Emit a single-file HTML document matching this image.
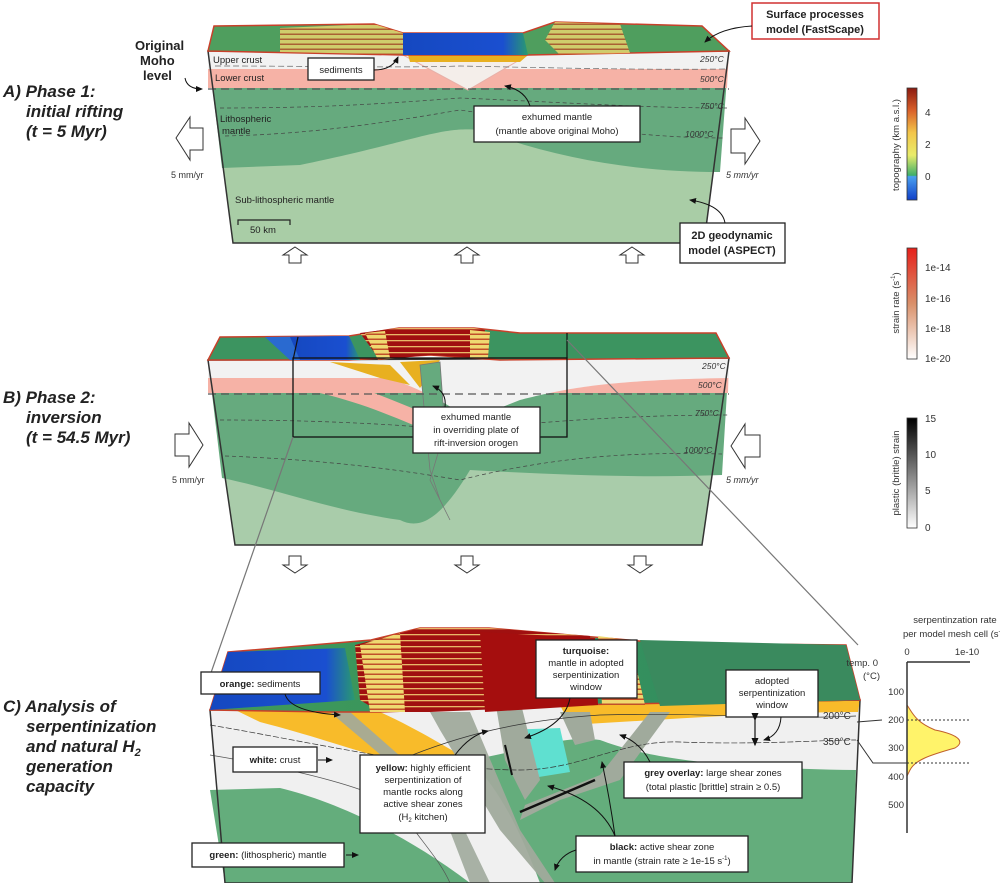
<!DOCTYPE html>
<html><head><meta charset="utf-8"><style>
body{margin:0;background:#fff}
svg{display:block}
text{font-family:"Liberation Sans",sans-serif}
.lab{font-size:9.5px;fill:#222}
.tc{font-size:8.5px;fill:#333;font-style:italic}
.ph{font-size:17px;font-weight:bold;font-style:italic;fill:#222}
.bx{fill:#fff;stroke:#222;stroke-width:1.3}
</style></head><body>
<svg width="1000" height="883" viewBox="0 0 1000 883" xmlns="http://www.w3.org/2000/svg">
<defs>
<pattern id="stripe" width="20" height="5" patternUnits="userSpaceOnUse">
<rect width="20" height="5" fill="#efd870"/><rect y="3.5" width="20" height="1.5" fill="#c0502a"/></pattern>
<pattern id="stripeR" width="20" height="6" patternUnits="userSpaceOnUse">
<rect width="20" height="6" fill="#a01010"/><rect y="4" width="20" height="1.3" fill="#e8b868"/></pattern>
<linearGradient id="topo" x1="0" y1="0" x2="0" y2="1">
<stop offset="0" stop-color="#8b1a10"/><stop offset="0.2" stop-color="#d9602a"/><stop offset="0.4" stop-color="#f3c64a"/><stop offset="0.6" stop-color="#e9ec6a"/><stop offset="0.78" stop-color="#3fae6a"/><stop offset="0.79" stop-color="#4aa0f0"/><stop offset="1" stop-color="#1040c8"/></linearGradient>
<linearGradient id="sr" x1="0" y1="0" x2="0" y2="1"><stop offset="0" stop-color="#e6201a"/><stop offset="0.5" stop-color="#d9906a"/><stop offset="1" stop-color="#fff"/></linearGradient>
<linearGradient id="ps" x1="0" y1="0" x2="0" y2="1"><stop offset="0" stop-color="#000"/><stop offset="1" stop-color="#fff"/></linearGradient>
<linearGradient id="blueG" x1="0" y1="0" x2="1" y2="0"><stop offset="0" stop-color="#1548c0"/><stop offset="0.8" stop-color="#1a4fd0"/><stop offset="1" stop-color="#2a9a70"/></linearGradient>
<linearGradient id="greenTop" x1="0" y1="0" x2="1" y2="0"><stop offset="0" stop-color="#3f9a5a"/><stop offset="1" stop-color="#2e8a60"/></linearGradient>
<marker id="ah" markerWidth="8" markerHeight="8" refX="6" refY="3" orient="auto"><path d="M0,0 L7,3 L0,6 Z" fill="#111"/></marker>
</defs>

<!-- ============ PANEL A ============ -->
<polygon points="208,51 729,51 704,243 233,243" fill="#a9cda6"/>
<path d="M208,51 L729,51 L720,172 C640,172 560,160 480,130 C440,126 420,140 300,165 L222,168 Z" fill="#66aa7e"/>
<polygon points="208,51 729,51 727,88 208,88" fill="#f6b2a6"/>
<polygon points="208,51 729,51 727,69 208,69" fill="#f2f2f2"/>
<polygon points="403,55 528,55 468,90" fill="#f4eeea" stroke="#e8b0a8"/>
<path d="M408,55 L528,55 L520,62 L410,62Z" fill="#e8b020"/>
<line x1="208" y1="89" x2="729" y2="89" stroke="#555" stroke-dasharray="8,5" stroke-width="1.3"/>
<path d="M215,66 C330,66 400,68 460,66 C560,68 640,70 727,69" stroke="#666" fill="none" stroke-dasharray="6,3" stroke-width="0.7"/>
<path d="M220,108 C320,108 380,104 460,98 C560,102 640,108 727,108" stroke="#444" fill="none" stroke-dasharray="4,3" stroke-width="0.7"/>
<path d="M225,136 C320,134 400,120 460,110 C560,125 640,138 724,138" stroke="#444" fill="none" stroke-dasharray="4,3" stroke-width="0.7"/>
<polygon points="208,51 729,51 704,243 233,243" fill="none" stroke="#333" stroke-width="1.5"/>
<polygon points="214,26 374,24 403,33 523,33 555,22 702,26 729,51 528,55 403,55 208,51" fill="#4f9e5e" stroke="#c8402a" stroke-width="1.5"/>
<polygon points="280,28 374,24 403,33 403,55 380,54 280,52" fill="url(#stripe)" opacity="0.8"/>
<polygon points="555,22 620,24 630,53 560,55 545,40" fill="url(#stripe)" opacity="0.8"/>
<polygon points="403,33 523,33 528,55 403,55" fill="url(#blueG)"/>
<text class="lab" x="213" y="63">Upper crust</text>
<text class="lab" x="215" y="81">Lower crust</text>
<text class="lab" x="220" y="122">Lithospheric</text>
<text class="lab" x="222" y="134">mantle</text>
<text class="lab" x="235" y="203">Sub-lithospheric mantle</text>
<path d="M238,225 L238,220 L290,220 L290,225" fill="none" stroke="#222" stroke-width="1.2"/>
<text class="lab" x="250" y="233">50 km</text>
<text class="tc" x="700" y="62">250°C</text>
<text class="tc" x="700" y="82">500°C</text>
<text class="tc" x="700" y="109">750°C</text>
<text class="tc" x="685" y="137">1000°C</text>
<rect class="bx" x="308" y="58" width="66" height="22"/>
<text class="lab" x="341" y="73" text-anchor="middle">sediments</text>
<path d="M374,70 Q392,70 398,57" fill="none" stroke="#111" marker-end="url(#ah)"/>
<rect class="bx" x="474" y="106" width="166" height="36"/>
<text class="lab" x="557" y="120" text-anchor="middle">exhumed mantle</text>
<text class="lab" x="557" y="134" text-anchor="middle">(mantle above original Moho)</text>
<path d="M530,106 Q525,90 505,86" fill="none" stroke="#111" marker-end="url(#ah)"/>
<text x="135" y="50" style="font-size:13px;font-weight:bold;fill:#222">Original</text>
<text x="140" y="65" style="font-size:13px;font-weight:bold;fill:#222">Moho</text>
<text x="143" y="80" style="font-size:13px;font-weight:bold;fill:#222">level</text>
<path d="M185,78 Q187,89 202,89" fill="none" stroke="#111" marker-end="url(#ah)"/>
<text class="ph" x="3" y="97">A) Phase 1:</text>
<text class="ph" x="26" y="117">initial rifting</text>
<text class="ph" x="26" y="137">(t = 5 Myr)</text>
<path d="M176,138 L190,117 L190,128 L203,128 L203,150 L190,150 L190,160 Z" fill="#fff" stroke="#333"/>
<path d="M760,141 L745,118 L745,129 L731,129 L731,153 L745,153 L745,164 Z" fill="#fff" stroke="#333"/>
<text x="171" y="178" style="font-size:9px;fill:#333">5 mm/yr</text>
<text x="726" y="178" style="font-size:9px;fill:#333;font-style:italic">5 mm/yr</text>
<g fill="#fff" stroke="#333">
<path d="M295,247 L307,255 L301,255 L301,263 L289,263 L289,255 L283,255Z"/>
<path d="M467,247 L479,255 L473,255 L473,263 L461,263 L461,255 L455,255Z"/>
<path d="M632,247 L644,255 L638,255 L638,263 L626,263 L626,255 L620,255Z"/>
</g>
<rect x="752" y="3" width="127" height="36" fill="#fff" stroke="#d03030" stroke-width="1.5"/>
<text x="815" y="18" text-anchor="middle" style="font-size:11px;font-weight:bold;fill:#222">Surface processes</text>
<text x="815" y="33" text-anchor="middle" style="font-size:11px;font-weight:bold;fill:#222">model (FastScape)</text>
<path d="M752,26 Q720,28 705,42" fill="none" stroke="#111" marker-end="url(#ah)"/>
<rect class="bx" x="680" y="223" width="105" height="40"/>
<text x="732" y="239" text-anchor="middle" style="font-size:11px;font-weight:bold;fill:#222">2D geodynamic</text>
<text x="732" y="254" text-anchor="middle" style="font-size:11px;font-weight:bold;fill:#222">model (ASPECT)</text>
<path d="M725,223 Q722,205 690,200" fill="none" stroke="#111" marker-end="url(#ah)"/>

<!-- ============ PANEL B ============ -->
<polygon points="208,360 729,358 702,545 235,545" fill="#a9ccaa"/>
<path d="M208,360 L729,358 L722,475 C640,478 560,475 470,470 C440,520 420,530 400,520 C330,510 280,490 222,478 Z" fill="#66aa7e"/>
<path d="M208,360 L729,358 L728,393 L208,393Z" fill="#f6b2a6"/>
<path d="M208,360 L729,358 L729,378 L208,378Z" fill="#f2f2f2"/>
<path d="M330,362 C380,372 430,390 470,420 L520,400 C560,390 600,380 729,378 L729,360Z" fill="#f2f2f2"/>
<path d="M340,380 C380,395 420,410 460,430 L450,440 C400,420 370,405 320,393Z" fill="#f6b2a6"/>
<path d="M330,362 L390,365 L410,385 L380,378Z" fill="#e8b020"/>
<path d="M400,362 L440,360 L420,388Z" fill="#e8b020"/>
<path d="M420,365 L440,362 L445,430 L430,480 L450,520 L440,500 L430,470Z" fill="#66aa7e" stroke="#777" stroke-width="0.8"/>
<line x1="208" y1="394" x2="729" y2="394" stroke="#555" stroke-dasharray="8,5" stroke-width="1.3"/>
<path d="M220,420 C330,420 400,425 460,430 C560,420 640,415 729,415" stroke="#444" fill="none" stroke-dasharray="4,3" stroke-width="0.7"/>
<path d="M225,456 C330,460 400,470 460,480 C560,455 640,452 722,454" stroke="#444" fill="none" stroke-dasharray="4,3" stroke-width="0.7"/>
<polygon points="208,360 729,358 702,545 235,545" fill="none" stroke="#333" stroke-width="1.5"/>
<polygon points="220,337 349,336 399,328 474,328 520,333 716,333 729,358 500,360 430,355 349,360 208,360" fill="#3c9460" stroke="#c8402a" stroke-width="1.5"/>
<polygon points="265,337 349,336 360,360 290,360" fill="#2a6ad0"/>
<polygon points="290,337 349,336 360,360 300,360" fill="url(#blueG)"/>
<polygon points="360,333 399,328 474,328 485,330 480,358 430,355 380,360" fill="url(#stripeR)"/>
<polygon points="365,333 385,331 390,358 378,360" fill="url(#stripe)"/>
<polygon points="470,330 490,332 488,358 470,358" fill="url(#stripe)"/>
<rect x="293" y="358" width="274" height="79" fill="none" stroke="#111" stroke-width="1.3"/>
<line x1="567" y1="333" x2="567" y2="358" stroke="#111" stroke-width="1.2"/>
<line x1="298" y1="337" x2="293" y2="360" stroke="#111" stroke-width="1.2"/>
<text class="tc" x="702" y="369">250°C</text>
<text class="tc" x="698" y="388">500°C</text>
<text class="tc" x="695" y="416">750°C</text>
<text class="tc" x="684" y="453">1000°C</text>
<rect class="bx" x="413" y="407" width="127" height="46"/>
<text class="lab" x="476" y="420" text-anchor="middle">exhumed mantle</text>
<text class="lab" x="476" y="433" text-anchor="middle">in overriding plate of</text>
<text class="lab" x="476" y="446" text-anchor="middle">rift-inversion orogen</text>
<path d="M445,407 Q447,392 433,386" fill="none" stroke="#111" marker-end="url(#ah)"/>
<text class="ph" x="3" y="403">B) Phase 2:</text>
<text class="ph" x="26" y="423">inversion</text>
<text class="ph" x="26" y="443">(t = 54.5 Myr)</text>
<path d="M203,445 L189,423 L189,434 L175,434 L175,456 L189,456 L189,467 Z" fill="#fff" stroke="#333"/>
<path d="M731,446 L745,424 L745,435 L760,435 L760,457 L745,457 L745,468 Z" fill="#fff" stroke="#333"/>
<text x="172" y="483" style="font-size:9px;fill:#333">5 mm/yr</text>
<text x="726" y="483" style="font-size:9px;fill:#333;font-style:italic">5 mm/yr</text>
<g fill="#fff" stroke="#333">
<path d="M295,573 L307,565 L301,565 L301,556 L289,556 L289,565 L283,565Z"/>
<path d="M467,573 L479,565 L473,565 L473,556 L461,556 L461,565 L455,565Z"/>
<path d="M640,573 L652,565 L646,565 L646,556 L634,556 L634,565 L628,565Z"/>
</g>
<line x1="293" y1="437" x2="205" y2="690" stroke="#777" stroke-width="1.2"/>
<line x1="567" y1="340" x2="858" y2="645" stroke="#777" stroke-width="1.2"/>

<!-- ============ PANEL C ============ -->
<polygon points="210,710 860,700 852,883 225,883" fill="#f0f0f0"/>
<path d="M225,705 L380,712 C420,730 450,750 470,760 L430,770 C380,760 330,740 260,722 Z" fill="#f8bb2a"/>
<path d="M560,705 L860,700 L858,712 C760,712 660,720 570,725Z" fill="#f8bb2a"/>
<path d="M210,790 L280,788 C330,800 400,830 470,883 L225,883Z" fill="#64ad7c"/>
<path d="M470,760 C530,750 560,735 600,740 C640,755 700,768 856,770 L852,883 L540,883 C520,830 500,790 470,760Z" fill="#64ad7c"/>
<path d="M505,730 L560,728 L570,772 L520,780Z" fill="#5fe0d0"/>
<path d="M507,732 L512,730 L525,778 L520,779Z" fill="#fff36a"/>
<path d="M430,712 L470,712 L520,830 L555,883 L545,883 L500,830 L440,730Z" fill="#a0aa9c" opacity="0.95"/>
<path d="M330,712 L350,712 L450,800 L490,883 L470,883 L440,805Z" fill="#a0aa9c" opacity="0.9"/>
<path d="M495,700 L520,700 L540,780 L525,800 L505,760Z" fill="#a0aa9c"/>
<path d="M650,712 L670,712 L620,780 L560,800 L520,820 L525,805 L600,775 Z" fill="#a0aa9c"/>
<path d="M560,712 L590,712 L595,740 L575,745Z" fill="#a0aa9c"/>
<path d="M520,812 L560,795 L595,780" stroke="#111" stroke-width="2.5" fill="none"/>
<path d="M505,745 L512,775" stroke="#111" stroke-width="2" fill="none"/>
<path d="M210,725 C300,740 430,770 520,770 C580,770 620,740 680,742 C760,745 820,740 856,740" stroke="#333" fill="none" stroke-width="0.7" stroke-dasharray="6,2"/>
<path d="M400,760 C460,735 520,720 600,715 C700,712 780,720 856,716" stroke="#333" fill="none" stroke-width="0.7"/>
<path d="M210,755 C300,770 380,790 400,810 C420,840 440,860 450,883" stroke="#555" fill="none" stroke-width="0.7"/>
<polygon points="210,710 860,700 852,883 225,883" fill="none" stroke="#333" stroke-width="1.5"/>
<polygon points="228,652 371,640 420,628 489,628 663,643 846,645 860,700 560,705 380,712 330,712 210,710" fill="url(#greenTop)" stroke="#c8402a" stroke-width="1.5"/>
<polygon points="228,652 345,648 355,700 210,710" fill="url(#blueG)"/>
<polygon points="355,645 390,636 420,628 489,628 590,636 595,705 430,712 380,712 360,700" fill="url(#stripeR)"/>
<polygon points="360,645 400,633 405,712 370,712" fill="url(#stripe)"/>
<polygon points="480,632 595,638 598,705 485,712" fill="#a50e0e"/>
<polygon points="598,636 630,640 645,705 602,705" fill="url(#stripe)"/>
<polygon points="640,640 846,645 860,700 660,706" fill="#3a8a5e"/>
<text class="ph" x="3" y="712">C) Analysis of</text>
<text class="ph" x="26" y="732">serpentinization</text>
<text class="ph" x="26" y="752">and natural H<tspan style="font-size:11px" dy="4">2</tspan></text>
<text class="ph" x="26" y="772">generation</text>
<text class="ph" x="26" y="792">capacity</text>
<g class="lab">
<rect class="bx" x="201" y="672" width="119" height="22"/>
<text x="260" y="687" text-anchor="middle"><tspan font-weight="bold">orange:</tspan> sediments</text>
<path d="M285,694 Q290,712 340,715" fill="none" stroke="#111" marker-end="url(#ah)"/>
<rect class="bx" x="233" y="747" width="84" height="25"/>
<text x="275" y="763" text-anchor="middle"><tspan font-weight="bold">white:</tspan> crust</text>
<line x1="318" y1="760" x2="332" y2="760" stroke="#111" marker-end="url(#ah)"/>
<rect class="bx" x="192" y="843" width="152" height="24"/>
<text x="268" y="858" text-anchor="middle"><tspan font-weight="bold">green:</tspan> (lithospheric) mantle</text>
<line x1="346" y1="855" x2="358" y2="855" stroke="#111" marker-end="url(#ah)"/>
<rect class="bx" x="360" y="755" width="125" height="78"/>
<text x="423" y="771" text-anchor="middle"><tspan font-weight="bold">yellow:</tspan> highly efficient</text>
<text x="423" y="783" text-anchor="middle">serpentinization of</text>
<text x="423" y="795" text-anchor="middle">mantle rocks along</text>
<text x="423" y="807" text-anchor="middle">active shear zones</text>
<text x="423" y="820" text-anchor="middle">(H<tspan font-size="6" dy="2">2</tspan><tspan dy="-2"> kitchen)</tspan></text>
<path d="M455,755 Q470,735 488,731" fill="none" stroke="#111" marker-end="url(#ah)"/>
<rect class="bx" x="536" y="640" width="101" height="58"/>
<text x="586" y="654" text-anchor="middle" font-weight="bold">turquoise:</text>
<text x="586" y="666" text-anchor="middle">mantle in adopted</text>
<text x="586" y="678" text-anchor="middle">serpentinization</text>
<text x="586" y="690" text-anchor="middle">window</text>
<path d="M570,698 Q565,725 525,738" fill="none" stroke="#111" marker-end="url(#ah)"/>
<rect class="bx" x="726" y="670" width="92" height="47"/>
<text x="772" y="684" text-anchor="middle">adopted</text>
<text x="772" y="696" text-anchor="middle">serpentinization</text>
<text x="772" y="708" text-anchor="middle">window</text>
<path d="M781,717 Q780,735 764,740" fill="none" stroke="#111" marker-end="url(#ah)"/>
<rect class="bx" x="624" y="762" width="178" height="36"/>
<text x="713" y="776" text-anchor="middle"><tspan font-weight="bold">grey overlay:</tspan> large shear zones</text>
<text x="713" y="790" text-anchor="middle">(total plastic [brittle] strain ≥ 0.5)</text>
<path d="M650,762 Q640,742 620,735" fill="none" stroke="#111" marker-end="url(#ah)"/>
<rect class="bx" x="576" y="836" width="172" height="36"/>
<text x="662" y="850" text-anchor="middle"><tspan font-weight="bold">black:</tspan> active shear zone</text>
<text x="662" y="864" text-anchor="middle">in mantle (strain rate ≥ 1e-15 s<tspan font-size="6" dy="-4">-1</tspan><tspan dy="4">)</tspan></text>
<path d="M615,836 Q600,800 548,786" fill="none" stroke="#111" marker-end="url(#ah)"/>
<path d="M615,836 Q610,800 602,762" fill="none" stroke="#111" marker-end="url(#ah)"/>
<path d="M576,850 Q560,855 555,870" fill="none" stroke="#111" marker-end="url(#ah)"/>
</g>
<line x1="755" y1="720" x2="755" y2="745" stroke="#111" stroke-width="1.2" marker-end="url(#ah)" marker-start="url(#ah)"/>
<text x="823" y="719" style="font-size:10px;fill:#333">200°C</text>
<text x="823" y="745" style="font-size:10px;fill:#333">350°C</text>

<text x="955" y="623" text-anchor="middle" style="font-size:9.5px;fill:#333">serpentinzation rate</text>
<text x="955" y="637" text-anchor="middle" style="font-size:9.5px;fill:#333">per model mesh cell (s<tspan font-size="6" dy="-4">-1</tspan><tspan dy="4">)</tspan></text>
<text x="907" y="655" text-anchor="middle" style="font-size:9.5px;fill:#333">0</text>
<text x="967" y="655" text-anchor="middle" style="font-size:9.5px;fill:#333">1e-10</text>
<path d="M907,705 C912,712 915,722 935,730 C960,735 965,742 955,748 C930,755 915,760 910,770 L907,776 Z" fill="#fff36a" stroke="#c0602a" stroke-width="1"/>
<line x1="907" y1="662" x2="907" y2="833" stroke="#333" stroke-width="1.5"/>
<line x1="907" y1="662" x2="970" y2="662" stroke="#333" stroke-width="1.5"/>
<line x1="907" y1="720" x2="970" y2="720" stroke="#333" stroke-dasharray="2,2"/>
<line x1="907" y1="763" x2="970" y2="763" stroke="#333" stroke-dasharray="2,2"/>
<path d="M857,722 L882,720 M857,740 L873,763 L907,763" stroke="#333" fill="none"/>
<g style="font-size:9.5px;fill:#333" text-anchor="end">
<text x="878" y="666">temp. 0</text><text x="880" y="679">(°C)</text>
<text x="904" y="695">100</text><text x="904" y="723">200</text><text x="904" y="751">300</text><text x="904" y="780">400</text><text x="904" y="808">500</text>
</g>

<rect x="907" y="88" width="10" height="112" fill="url(#topo)" stroke="#333" stroke-width="0.8"/>
<g style="font-size:10px;fill:#333"><text x="925" y="116">4</text><text x="925" y="148">2</text><text x="925" y="180">0</text></g>
<text transform="translate(899,145) rotate(-90)" text-anchor="middle" style="font-size:9.5px;fill:#333">topography (km a.s.l.)</text>
<rect x="907" y="248" width="10" height="111" fill="url(#sr)" stroke="#333" stroke-width="0.8"/>
<g style="font-size:10px;fill:#333"><text x="925" y="271">1e-14</text><text x="925" y="302">1e-16</text><text x="925" y="332">1e-18</text><text x="925" y="362">1e-20</text></g>
<text transform="translate(899,303) rotate(-90)" text-anchor="middle" style="font-size:9.5px;fill:#333">strain rate (s<tspan font-size="6" dy="-4">-1</tspan><tspan dy="4">)</tspan></text>
<rect x="907" y="418" width="10" height="110" fill="url(#ps)" stroke="#333" stroke-width="0.8"/>
<g style="font-size:10px;fill:#333"><text x="925" y="422">15</text><text x="925" y="458">10</text><text x="925" y="494">5</text><text x="925" y="531">0</text></g>
<text transform="translate(899,473) rotate(-90)" text-anchor="middle" style="font-size:9.5px;fill:#333">plastic (brittle) strain</text>
</svg>
</body></html>
